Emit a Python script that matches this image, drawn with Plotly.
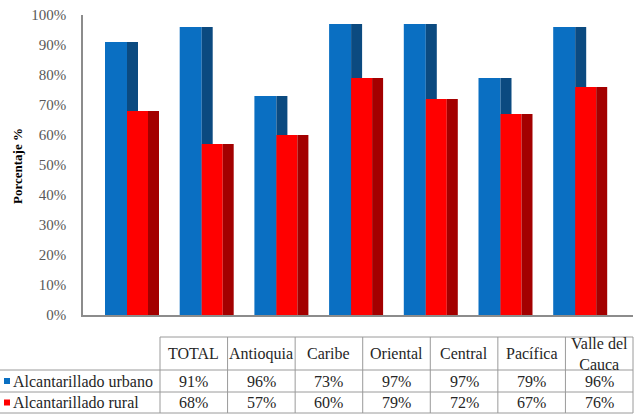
import plotly.graph_objects as go

# ---- data ----
categories = ["TOTAL", "Antioquia", "Caribe", "Oriental", "Central", "Pacífica", "Valle del<br>Cauca"]
urbano = [91, 96, 73, 97, 97, 79, 96]
rural = [68, 57, 60, 79, 72, 67, 76]
series_names = ["Alcantarillado urbano", "Alcantarillado rural"]
y_ticks = [0, 10, 20, 30, 40, 50, 60, 70, 80, 90, 100]

# ---- geometry (pixels) ----
W, H = 634, 415
L, R, T, B = 83, 1, 15, 100
PW, PH = W - L - R, H - T - B
STEP = 74.7                     # pixels per category slot
FIRST_CENTER = 132              # pixel centre of first group
x_start = -(FIRST_CENTER - L) / STEP
x_end = x_start + PW / STEP

BLUE, BLUE_SIDE = "#0A6FC2", "#0B4A80"
RED, RED_SIDE = "#FF0000", "#A30000"
FONT = "Liberation Serif, Times New Roman, serif"


def u(px):
    return px / STEP


def px_x(px):
    return (px - L) / PW


def px_y(py):
    return (H - B - py) / PH


xs = list(range(len(categories)))
uy = [v / 100 for v in urbano]
ry = [v / 100 for v in rural]

fig = go.Figure()
# each column is a front face plus a darker side face
bar_specs = [
    (uy, BLUE, -27, 22),
    (uy, BLUE_SIDE, -5, 11),
    (ry, RED, -5, 21),
    (ry, RED_SIDE, 16, 11),
]
for vals, color, off, wid in bar_specs:
    fig.add_trace(go.Bar(
        x=xs, y=vals, offset=u(off), width=u(wid),
        marker=dict(color=color, line=dict(width=0)),
        showlegend=False, hoverinfo="skip",
    ))

fig.update_layout(
    width=W, height=H,
    margin=dict(l=L, r=R, t=T, b=B),
    barmode="overlay",
    plot_bgcolor="white", paper_bgcolor="white",
    font=dict(family=FONT, color="#404040"),
    xaxis=dict(range=[x_start, x_end], showticklabels=False, showgrid=False,
               zeroline=False, showline=True, linecolor="#8C8C8C", linewidth=1.5,
               ticks=""),
    yaxis=dict(range=[0, 1], tickvals=[t / 100 for t in y_ticks],
               ticktext=[f"{t}%" for t in y_ticks], showgrid=False,
               zeroline=False, showline=True, linecolor="#8C8C8C", linewidth=1.5,
               ticks="", ticklabelstandoff=12,
               tickfont=dict(family=FONT, size=15, color="#595959")),
)


def label(x, y, text, font, xanchor="center"):
    fig.add_annotation(x=px_x(x), y=px_y(y), xref="paper", yref="paper",
                       text=text, showarrow=False, font=font,
                       xanchor=xanchor, yanchor="middle", align="center")


# y axis title
fig.add_annotation(x=px_x(17), y=px_y(166), xref="paper", yref="paper",
                   text="<b>Porcentaje %</b>", textangle=-90, showarrow=False,
                   xanchor="center", yanchor="middle",
                   font=dict(family=FONT, size=13, color="#000000"))

# ---- data table below the plot ----
n = len(categories)
tbl_left, tbl_right = 160, 633
col_w = (tbl_right - tbl_left) / n
cols = [tbl_left + k * col_w for k in range(n + 1)]
row_y = [337, 370, 392, 413]
line_style = dict(color="#9A9A9A", width=1)

shapes = []
shapes.append(dict(type="line", xref="paper", yref="paper",
                   x0=px_x(tbl_left), x1=px_x(tbl_right),
                   y0=px_y(row_y[0]), y1=px_y(row_y[0]), line=line_style))
for yy in row_y[1:]:
    shapes.append(dict(type="line", xref="paper", yref="paper",
                       x0=px_x(0), x1=px_x(tbl_right),
                       y0=px_y(yy), y1=px_y(yy), line=line_style))
for cx in cols:
    shapes.append(dict(type="line", xref="paper", yref="paper",
                       x0=px_x(cx), x1=px_x(cx),
                       y0=px_y(row_y[0]), y1=px_y(row_y[-1]), line=line_style))

row_centers = [(row_y[i] + row_y[i + 1]) / 2 for i in range(3)]
table_font = dict(family=FONT, size=16, color="#262626")
header_font = dict(family=FONT, size=16, color="#262626")

for k, cat in enumerate(categories):
    cx = (cols[k] + cols[k + 1]) / 2
    label(cx, row_centers[0], cat, header_font)
    for r, vals in enumerate([urbano, rural], start=1):
        label(cx, row_centers[r], f"{vals[k]}%", table_font)

for r, (name, color) in enumerate(zip(series_names, [BLUE, RED]), start=1):
    cy = row_centers[r]
    shapes.append(dict(type="rect", xref="paper", yref="paper",
                       x0=px_x(4), x1=px_x(10), y0=px_y(cy - 3), y1=px_y(cy + 3),
                       fillcolor=color, line=dict(width=0)))
    label(11, cy, name, table_font, xanchor="left")

fig.update_layout(shapes=shapes)

fig.write_html("out.html")
